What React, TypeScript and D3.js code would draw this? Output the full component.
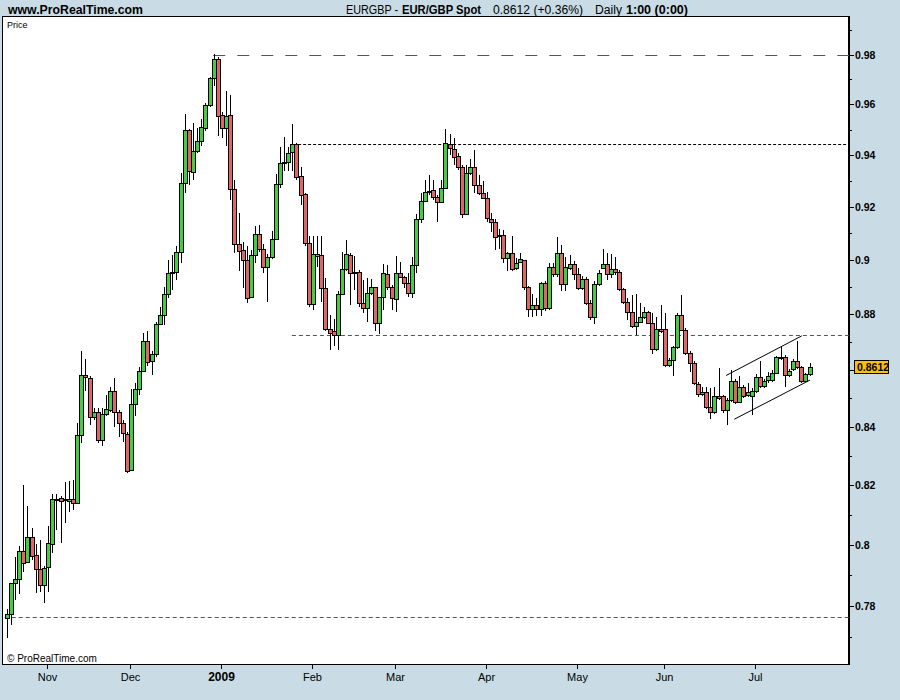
import React from "react";
import * as d3 from "d3";

// EUR/GBP daily candles, Oct 20 2008 .. Jul 20 2009 (bar index order)
const opens = [
0.7760,0.7772,0.7875,0.7886,0.7978,0.7944,0.8024,0.7965,0.7919,0.7867,
0.7926,0.8001,0.8152,0.8155,0.8148,0.8144,0.8154,0.8139,0.8371,0.8581,
0.8570,0.8435,0.8450,0.8355,0.8443,0.8459,0.8527,0.8451,0.8412,0.8374,
0.8251,0.8479,0.8532,0.8597,0.8703,0.8632,0.8656,0.8764,0.8797,0.8874,
0.8952,0.8955,0.9030,0.9292,0.9498,0.9335,0.9416,0.9456,0.9506,0.9596,
0.9704,0.9781,0.9559,0.9506,0.9557,0.9268,0.9061,0.9038,0.9001,0.8865,
0.9018,0.9098,0.9041,0.8974,0.9013,0.9079,0.9289,0.9368,0.9372,0.9413,
0.9443,0.9318,0.9249,0.9064,0.8837,0.9017,0.9018,0.8896,0.8746,0.8741,
0.8727,0.8874,0.8966,0.9018,0.8955,0.8955,0.8841,0.8823,0.8878,0.8900,
0.8768,0.8863,0.8948,0.8900,0.8856,0.8952,0.8937,0.8915,0.8880,0.8981,
0.9154,0.9223,0.9257,0.9266,0.9238,0.9218,0.9272,0.9443,0.9423,0.9397,
0.9353,0.9173,0.9330,0.9355,0.9284,0.9253,0.9234,0.9154,0.9143,0.9095,
0.9095,0.9007,0.9028,0.8970,0.8992,0.9000,0.8902,0.8819,0.8834,0.8819,
0.8915,0.8823,0.8974,0.8948,0.9026,0.8911,0.8970,0.8985,0.8948,0.8896,
0.8930,0.8841,0.8790,0.8911,0.8970,0.8985,0.8948,0.8966,0.8955,0.8893,
0.8845,0.8808,0.8758,0.8774,0.8792,0.8808,0.8768,0.8674,0.8747,0.8746,
0.8618,0.8636,0.8681,0.8798,0.8744,0.8660,0.8624,0.8550,0.8515,0.8523,
0.8469,0.8450,0.8506,0.8506,0.8457,0.8492,0.8559,0.8488,0.8539,0.8512,
0.8509,0.8526,0.8576,0.8543,0.8564,0.8564,0.8590,0.8645,0.8645,0.8581,
0.8602,0.8632,0.8609,0.8562,0.8585];

const highs = [
0.7788,0.7874,0.7958,0.7995,0.8200,0.8130,0.8056,0.8002,0.8015,0.7930,
0.8062,0.8170,0.8170,0.8161,0.8211,0.8215,0.8217,0.8412,0.8667,0.8638,
0.8579,0.8466,0.8466,0.8466,0.8512,0.8541,0.8570,0.8459,0.8424,0.8382,
0.8532,0.8553,0.8609,0.8732,0.8738,0.8669,0.8773,0.8828,0.8902,0.9001,
0.9020,0.9054,0.9330,0.9562,0.9503,0.9525,0.9506,0.9541,0.9605,0.9711,
0.9802,0.9791,0.9571,0.9653,0.9637,0.9304,0.9179,0.9069,0.9051,0.9036,
0.9129,0.9133,0.9061,0.9023,0.9110,0.9327,0.9431,0.9472,0.9433,0.9522,
0.9446,0.9355,0.9253,0.9089,0.9089,0.9089,0.9089,0.8933,0.8798,0.8782,
0.8884,0.9032,0.9076,0.9026,0.9017,0.8964,0.8927,0.8933,0.8931,0.8902,
0.8865,0.8985,0.8982,0.8908,0.9016,0.8994,0.8942,0.8952,0.9013,0.9174,
0.9253,0.9304,0.9323,0.9302,0.9247,0.9302,0.9503,0.9483,0.9466,0.9407,
0.9362,0.9362,0.9384,0.9420,0.9323,0.9298,0.9259,0.9177,0.9154,0.9116,
0.9114,0.9032,0.9091,0.9007,0.9026,0.9001,0.8905,0.8875,0.8859,0.8920,
0.8921,0.8989,0.8989,0.9086,0.9057,0.9013,0.9020,0.8997,0.8970,0.8942,
0.8939,0.8853,0.8921,0.8964,0.9041,0.9026,0.9023,0.9011,0.8964,0.8896,
0.8859,0.8872,0.8875,0.8841,0.8828,0.8814,0.8804,0.8791,0.8834,0.8804,
0.8643,0.8684,0.8805,0.8872,0.8751,0.8668,0.8632,0.8557,0.8541,0.8541,
0.8535,0.8539,0.8606,0.8512,0.8501,0.8600,0.8568,0.8579,0.8547,0.8554,
0.8535,0.8586,0.8632,0.8568,0.8594,0.8600,0.8648,0.8684,0.8654,0.8603,
0.8639,0.8705,0.8614,0.8589,0.8624];

const lows = [
0.7696,0.7738,0.7819,0.7838,0.7908,0.7940,0.7950,0.7841,0.7846,0.7810,
0.7843,0.7973,0.8047,0.8004,0.8071,0.8107,0.8114,0.8134,0.8345,0.8527,
0.8406,0.8424,0.8343,0.8334,0.8438,0.8452,0.8400,0.8364,0.8348,0.8240,
0.8246,0.8438,0.8512,0.8593,0.8614,0.8582,0.8646,0.8762,0.8762,0.8859,
0.8890,0.8927,0.8991,0.9253,0.9285,0.9304,0.9408,0.9436,0.9496,0.9591,
0.9673,0.9475,0.9465,0.9436,0.9227,0.9026,0.8961,0.8896,0.8841,0.8861,
0.8989,0.9031,0.8952,0.8847,0.9005,0.9076,0.9272,0.9340,0.9340,0.9340,
0.9304,0.9208,0.9051,0.8828,0.8816,0.8976,0.8847,0.8738,0.8672,0.8684,
0.8672,0.8872,0.8958,0.8835,0.8890,0.8828,0.8804,0.8774,0.8872,0.8741,
0.8729,0.8816,0.8890,0.8816,0.8810,0.8933,0.8896,0.8865,0.8859,0.8954,
0.9139,0.9221,0.9247,0.9227,0.9145,0.9215,0.9268,0.9400,0.9362,0.9343,
0.9160,0.9169,0.9323,0.9255,0.9247,0.9230,0.9145,0.9107,0.9038,0.9041,
0.8991,0.8961,0.8958,0.8964,0.8989,0.8890,0.8790,0.8792,0.8794,0.8794,
0.8814,0.8816,0.8939,0.8939,0.8884,0.8884,0.8964,0.8927,0.8890,0.8890,
0.8835,0.8780,0.8765,0.8905,0.8966,0.8927,0.8933,0.8945,0.8884,0.8838,
0.8780,0.8750,0.8726,0.8768,0.8782,0.8765,0.8657,0.8669,0.8733,0.8609,
0.8612,0.8579,0.8675,0.8740,0.8654,0.8594,0.8547,0.8504,0.8508,0.8463,
0.8426,0.8445,0.8494,0.8448,0.8406,0.8487,0.8480,0.8484,0.8501,0.8505,
0.8441,0.8519,0.8536,0.8536,0.8554,0.8557,0.8586,0.8636,0.8539,0.8575,
0.8596,0.8603,0.8554,0.8557,0.8579];

const closes = [
0.7772,0.7873,0.7886,0.7978,0.7939,0.8024,0.7963,0.7919,0.7867,0.7923,
0.8004,0.8152,0.8154,0.8147,0.8151,0.8154,0.8139,0.8371,0.8581,0.8574,
0.8433,0.8450,0.8355,0.8445,0.8462,0.8527,0.8451,0.8414,0.8378,0.8246,
0.8479,0.8532,0.8597,0.8703,0.8630,0.8656,0.8764,0.8797,0.8874,0.8952,
0.8955,0.9030,0.9292,0.9498,0.9339,0.9416,0.9456,0.9509,0.9596,0.9704,
0.9781,0.9554,0.9506,0.9554,0.9268,0.9061,0.9034,0.9001,0.8859,0.9018,
0.9098,0.9041,0.8974,0.9013,0.9079,0.9289,0.9371,0.9375,0.9407,0.9443,
0.9315,0.9245,0.9064,0.8837,0.9022,0.9022,0.8896,0.8746,0.8732,0.8727,
0.8874,0.8966,0.9022,0.8952,0.8952,0.8841,0.8823,0.8878,0.8900,0.8768,
0.8863,0.8952,0.8900,0.8859,0.8952,0.8937,0.8915,0.8880,0.8981,0.9154,
0.9223,0.9257,0.9262,0.9238,0.9218,0.9272,0.9446,0.9427,0.9392,0.9353,
0.9173,0.9330,0.9355,0.9285,0.9253,0.9234,0.9158,0.9143,0.9086,0.9091,
0.9007,0.9028,0.8966,0.8989,0.9003,0.8900,0.8819,0.8834,0.8819,0.8915,
0.8823,0.8974,0.8948,0.9026,0.8911,0.8974,0.8985,0.8948,0.8896,0.8930,
0.8841,0.8792,0.8911,0.8952,0.8985,0.8948,0.8966,0.8955,0.8893,0.8845,
0.8808,0.8757,0.8774,0.8790,0.8808,0.8768,0.8674,0.8746,0.8740,0.8618,
0.8636,0.8681,0.8798,0.8744,0.8660,0.8624,0.8553,0.8515,0.8523,0.8469,
0.8450,0.8506,0.8501,0.8457,0.8492,0.8559,0.8488,0.8539,0.8508,0.8523,
0.8526,0.8576,0.8543,0.8561,0.8579,0.8590,0.8645,0.8641,0.8581,0.8597,
0.8632,0.8609,0.8562,0.8585,0.8612];

const monthLabels = ["Nov", "Dec", "2009", "Feb", "Mar", "Apr", "May", "Jun", "Jul"];
const monthBarIndex = [10, 30, 52, 74, 94, 116, 138, 159, 181];
const majorTicks = [0.78, 0.8, 0.82, 0.84, 0.86, 0.88, 0.9, 0.92, 0.94, 0.96, 0.98];
const majorLabels = ["0.78", "0.8", "0.82", "0.84", "", "0.88", "0.9", "0.92", "0.94", "0.96", "0.98"];
const minorTicks = [0.77, 0.79, 0.81, 0.83, 0.85, 0.87, 0.89, 0.91, 0.93, 0.95, 0.97, 0.99];

// horizontal support/resistance levels
const levelPrices = [0.98, 0.9443, 0.8726, 0.7763];
const levelStartBar = [49.9, 70.4, 68.9, -0.5];
const levelColors = ["#555", "#000", "#555", "#555"];
const levelDash = ["12,12", "3,2", "4,3", "4,3"];

// channel trend lines (bar index, price)
const channelUpper = [[173.8, 0.858], [192.1, 0.8722]];
const channelLower = [[175.8, 0.8426], [194.1, 0.8564]];

const lastPrice = 0.8612;

const W = 900, H = 700;
const PL = 3, PT = 17, PR = 849, PB = 665;
const FONT = "'Liberation Sans', Arial, Helvetica, sans-serif";

export default function App() {
  const x = d3.scaleLinear().domain([0, 194]).range([6.8, 6.8 + 194 * 4.138]);
  const y = d3.scaleLog().domain([0.78, 0.98]).range([605.7, 54.5]);
  const line = d3.line<number[]>().x((d) => x(d[0])).y((d) => y(d[1]));

  return (
    <svg width={W} height={H} style={{ position: "absolute", left: 0, top: 0 }} fontFamily={FONT}>
      <rect x={0} y={0} width={W} height={H} fill="#C9DCE6" />
      <rect x={PL - 0.5} y={PT - 0.5} width={PR - PL} height={PB - PT} fill="#fff" stroke="#000" />

      {/* header */}
      <text x={8} y={14} fontSize={13} fontWeight="bold" textLength={135} lengthAdjust="spacingAndGlyphs">www.ProRealTime.com</text>
      <text x={346} y={14} fontSize={12.5} textLength={52} lengthAdjust="spacingAndGlyphs">EURGBP -</text>
      <text x={402} y={14} fontSize={12.5} fontWeight="bold" textLength={79} lengthAdjust="spacingAndGlyphs">EUR/GBP Spot</text>
      <text x={493} y={14} fontSize={12.5} textLength={90} lengthAdjust="spacingAndGlyphs">0.8612 (+0.36%)</text>
      <text x={595} y={14} fontSize={12.5} textLength={27} lengthAdjust="spacingAndGlyphs">Daily</text>
      <text x={626} y={14} fontSize={12.5} fontWeight="bold" textLength={62} lengthAdjust="spacingAndGlyphs">1:00 (0:00)</text>

      <text x={7} y={28} fontSize={9}>Price</text>
      <text x={7} y={662} fontSize={10}>© ProRealTime.com</text>

      {/* levels */}
      {levelPrices.map((p, k) => (
        <line key={"lv" + k} x1={Math.max(PL, x(levelStartBar[k]))} x2={PR} y1={Math.round(y(p)) + 0.5} y2={Math.round(y(p)) + 0.5}
          stroke={levelColors[k]} strokeDasharray={levelDash[k]} strokeWidth={1} />
      ))}

      {/* channel */}
      <path d={line(channelUpper) || ""} stroke="#000" fill="none" strokeWidth={1} />
      <path d={line(channelLower) || ""} stroke="#000" fill="none" strokeWidth={1} />

      {/* candles */}
      {opens.map((o, i) => {
        const c = closes[i];
        const cx = Math.round(x(i));
        const up = c >= o;
        let top = Math.round(y(Math.max(o, c))) + 0.5;
        let bot = Math.round(y(Math.min(o, c))) + 0.5;
        if (bot - top < 1) bot = top + 1;
        return (
          <g key={i}>
            <line x1={cx + 0.5} x2={cx + 0.5} y1={Math.round(y(highs[i]))} y2={Math.round(y(lows[i]))} stroke="#000" strokeWidth={1} />
            <rect x={cx - 1.5} y={top} width={4} height={bot - top} fill={up ? "#44CC44" : "#E06666"} stroke="#000" strokeWidth={1} />
          </g>
        );
      })}

      {/* right axis */}
      <line x1={PR + 0.5} x2={PR + 0.5} y1={PT - 1} y2={PB} stroke="#000" />
      {majorTicks.map((t, k) => (
        <g key={"mt" + k}>
          <line x1={PR} x2={PR + 5} y1={Math.round(y(t)) + 0.5} y2={Math.round(y(t)) + 0.5} stroke="#000" />
          {majorLabels[k] && (
            <text x={855} y={y(t) + 4} fontSize={10.5} fontWeight="bold">{majorLabels[k]}</text>
          )}
        </g>
      ))}
      {minorTicks.map((t, k) => (
        <line key={"mn" + k} x1={PR} x2={PR + 3} y1={Math.round(y(t)) + 0.5} y2={Math.round(y(t)) + 0.5} stroke="#000" />
      ))}
      <rect x={854.5} y={Math.round(y(lastPrice)) - 6.5} width={34} height={13} fill="#FFC000" stroke="#000" />
      <text x={857} y={Math.round(y(lastPrice)) + 4} fontSize={10.5} fontWeight="bold">{lastPrice.toFixed(4)}</text>

      {/* bottom axis */}
      <line x1={PL - 1} x2={PR + 1} y1={PB - 0.5} y2={PB - 0.5} stroke="#000" />
      {monthBarIndex.map((b, k) => {
        const tx = Math.round(x(b)) - 0.5;
        const bold = monthLabels[k] === "2009";
        return (
          <g key={"m" + k}>
            <line x1={tx} x2={tx} y1={PB} y2={PB + 4} stroke="#000" />
            <text x={tx} y={681} fontSize={bold ? 12 : 11} fontWeight={bold ? "bold" : "normal"} textAnchor="middle">{monthLabels[k]}</text>
          </g>
        );
      })}
    </svg>
  );
}
